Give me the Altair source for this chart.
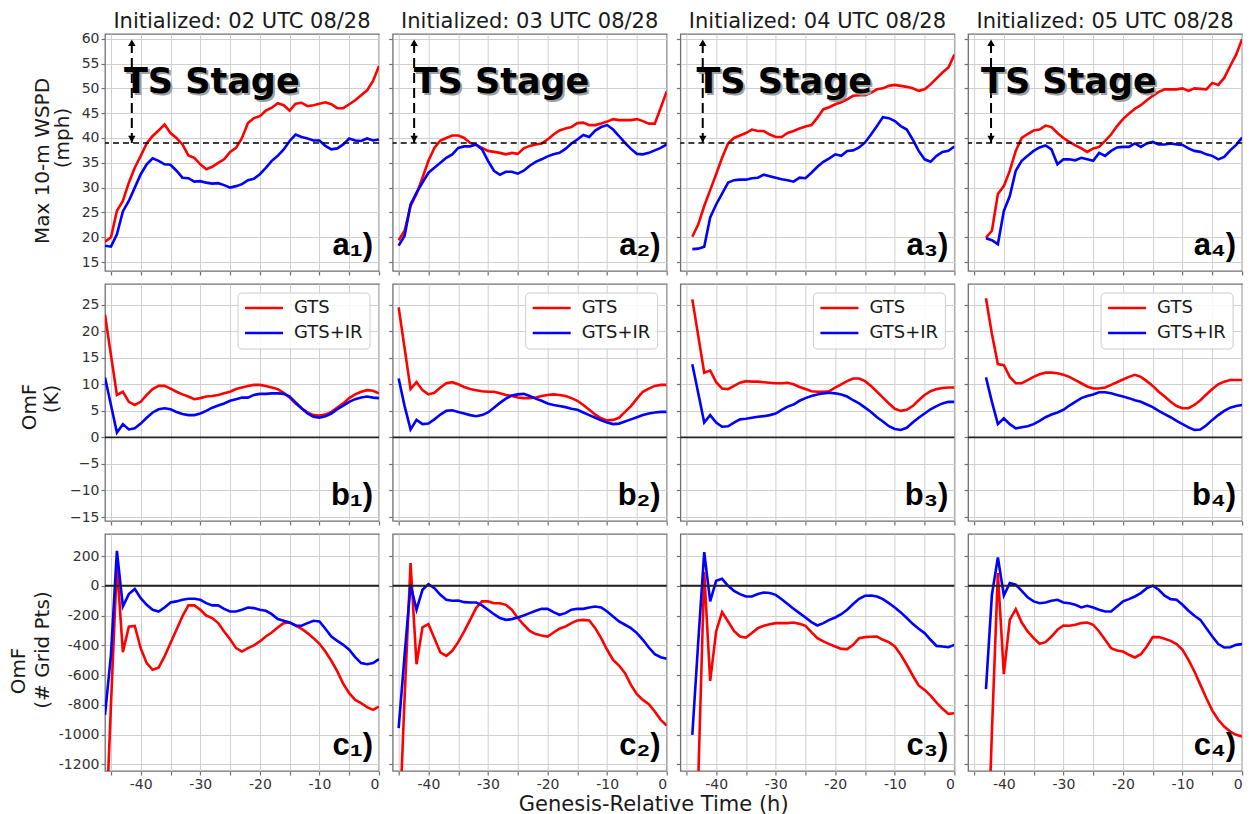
import altair as alt
import pandas as pd

FONT = "DejaVu Sans"
TAG_FONT = "Liberation Sans"
SERIES = ["GTS", "GTS+IR"]
COLORS = ["#ff0000", "#0000ff"]
COL_TITLES = ["Initialized: 02 UTC 08/28", "Initialized: 03 UTC 08/28",
              "Initialized: 04 UTC 08/28", "Initialized: 05 UTC 08/28"]
START_HOURS = [-46, -45, -44, -43]
ROW_TAGS = ["a", "b", "c"]
SUBS = ["\u2081", "\u2082", "\u2083", "\u2084"]

X_TICKS = [-45, -40, -35, -30, -25, -20, -15, -10, -5, 0]
Y_TICKS_A = [15, 20, 25, 30, 35, 40, 45, 50, 55, 60]
Y_TICKS_B = [-15, -10, -5, 0, 5, 10, 15, 20, 25]
Y_TICKS_C = [-1200, -1000, -800, -600, -400, -200, 0, 200]
TS_THRESHOLD = 39

# ---- Row a: Max 10-m WSPD (mph) ----
A1_GTS = [19.1, 20.0, 25.3, 27.3, 31.0, 34.0, 36.4, 38.9, 40.4, 41.5,
          42.7, 41.0, 40.0, 38.7, 36.5, 36.0, 34.7, 33.7, 34.2, 35.0,
          35.7, 37.2, 38.0, 40.0, 43.0, 44.0, 44.4, 45.5, 46.1, 47.0,
          46.6, 45.5, 46.9, 47.1, 46.4, 46.6, 46.9, 47.2, 46.8, 46.0,
          46.0, 46.8, 47.6, 48.6, 49.6, 51.5, 54.5]
A1_IR = [18.3, 18.1, 20.6, 25.2, 27.3, 30.0, 32.7, 34.7, 35.9, 35.4,
         34.7, 34.6, 33.4, 32.0, 31.9, 31.2, 31.3, 31.0, 30.8, 30.9,
         30.5, 30.0, 30.3, 30.7, 31.5, 31.8, 32.7, 34.0, 35.4, 36.4,
         37.7, 39.4, 40.7, 40.2, 39.9, 39.5, 39.5, 38.4, 37.7, 37.9,
         38.7, 39.9, 39.5, 39.4, 39.9, 39.5, 39.7]
A2_GTS = [19.4, 21.3, 26.3, 28.7, 32.0, 35.4, 38.0, 39.5, 40.0, 40.5,
          40.5, 40.0, 39.0, 38.6, 38.0, 37.4, 37.2, 37.0, 36.7, 37.0,
          36.8, 37.9, 38.4, 38.7, 38.9, 39.7, 40.7, 41.5, 41.9, 42.2,
          43.0, 43.1, 42.6, 42.6, 42.9, 43.3, 43.8, 43.6, 43.6, 43.6,
          43.8, 43.4, 42.9, 42.9, 46.1, 49.4]
A2_IR = [18.3, 20.3, 26.6, 29.0, 31.0, 33.0, 34.0, 35.0, 36.0, 36.7,
         38.0, 38.3, 38.3, 38.7, 37.7, 35.4, 33.4, 32.6, 33.2, 33.2,
         32.8, 33.4, 34.4, 35.2, 35.7, 36.3, 36.7, 37.0, 37.8, 38.9,
         39.7, 40.6, 40.2, 41.5, 42.2, 42.6, 41.7, 40.4, 39.0, 37.8,
         36.8, 36.7, 37.0, 37.5, 38.0, 38.7]
A3_GTS = [20.1, 22.6, 26.3, 29.5, 32.7, 36.0, 38.9, 40.0, 40.5, 41.0,
          41.7, 41.4, 41.4, 40.7, 40.2, 40.2, 41.0, 41.4, 41.9, 42.3,
          42.6, 44.1, 45.8, 46.2, 46.8, 47.2, 47.8, 48.5, 48.6, 48.6,
          49.1, 49.8, 50.0, 50.5, 50.7, 50.5, 50.3, 50.0, 49.5, 49.8,
          50.8, 52.0, 53.2, 54.2, 56.8]
A3_IR = [17.6, 17.7, 18.1, 24.0, 26.6, 28.8, 31.0, 31.5, 31.6, 31.6,
         31.9, 32.0, 32.6, 32.3, 32.0, 31.7, 31.5, 31.2, 32.0, 31.9,
         33.0, 34.2, 35.2, 35.9, 36.7, 36.4, 37.4, 37.5, 38.1, 39.1,
         40.7, 42.4, 44.2, 44.0, 43.4, 42.4, 41.7, 39.7, 37.4, 35.7,
         35.2, 36.4, 37.2, 37.4, 38.3]
A4_GTS = [19.9, 21.3, 28.7, 30.3, 33.4, 37.4, 40.0, 40.8, 41.5, 41.7,
          42.5, 42.2, 41.0, 40.0, 39.2, 38.5, 37.9, 37.2, 37.9, 38.2,
          39.4, 40.7, 42.4, 43.8, 44.9, 45.9, 46.6, 47.6, 48.5, 49.3,
          49.8, 49.8, 49.8, 50.0, 49.5, 50.0, 49.9, 49.8, 51.1, 50.7,
          52.1, 54.5, 56.8, 59.9]
A4_IR = [19.8, 19.4, 18.6, 25.3, 28.3, 33.4, 35.4, 36.4, 37.4, 38.1,
         38.5, 37.7, 34.7, 35.7, 35.7, 35.5, 36.0, 35.7, 35.4, 37.0,
         36.4, 37.4, 38.1, 38.2, 38.2, 38.9, 38.2, 38.9, 39.2, 38.7,
         38.7, 38.9, 38.7, 38.6, 37.9, 37.4, 37.2, 36.7, 36.4, 35.7,
         36.2, 37.5, 38.6, 40.1]

# ---- Row b: OmF (K) ----
B1_GTS = [23.1, 15.5, 8.0, 8.6, 6.7, 6.1, 6.7, 8.0, 9.1, 9.7,
          9.7, 9.2, 8.6, 8.1, 7.7, 7.2, 7.4, 7.7, 7.8, 8.0,
          8.3, 8.6, 9.1, 9.4, 9.7, 9.9, 9.9, 9.7, 9.4, 9.1,
          8.4, 7.5, 6.4, 5.5, 4.7, 4.2, 4.1, 4.3, 4.8, 5.6,
          6.4, 7.4, 8.1, 8.6, 8.9, 8.8, 8.3]
B1_IR = [11.3, 6.1, 0.9, 2.5, 1.5, 1.7, 2.6, 3.7, 4.7, 5.3,
         5.5, 5.3, 4.8, 4.4, 4.2, 4.2, 4.5, 5.0, 5.6, 6.0,
         6.4, 6.9, 7.2, 7.5, 7.5, 8.0, 8.2, 8.2, 8.3, 8.3,
         8.2, 7.7, 6.6, 5.5, 4.5, 3.9, 3.7, 4.0, 4.5, 5.3,
         6.0, 6.7, 7.2, 7.5, 7.7, 7.5, 7.4]
B2_GTS = [24.5, 16.8, 9.1, 10.4, 8.9, 8.1, 8.4, 9.4, 10.2, 10.4,
          10.0, 9.5, 9.1, 8.9, 8.7, 8.6, 8.6, 8.3, 8.0, 7.8,
          7.5, 7.4, 7.4, 7.5, 7.8, 8.0, 8.1, 8.0, 7.8, 7.4,
          6.9, 6.1, 5.2, 4.3, 3.6, 3.2, 3.3, 3.7, 4.8, 5.9,
          7.3, 8.6, 9.2, 9.7, 9.9, 9.9]
B2_IR = [11.1, 5.9, 1.5, 3.3, 2.5, 2.6, 3.4, 4.3, 5.0, 5.1,
         4.8, 4.5, 4.2, 4.0, 4.2, 4.7, 5.6, 6.5, 7.3, 7.9,
         8.1, 8.2, 7.8, 7.3, 6.9, 6.4, 6.1, 5.9, 5.7, 5.4,
         5.2, 4.7, 4.2, 3.7, 3.2, 2.8, 2.5, 2.6, 3.0, 3.4,
         3.8, 4.2, 4.5, 4.7, 4.8, 4.8]
B3_GTS = [26.0, 19.1, 12.2, 12.6, 10.4, 9.2, 9.1, 9.7, 10.3, 10.6,
          10.5, 10.5, 10.4, 10.3, 10.2, 10.2, 10.3, 10.0, 9.5, 9.1,
          8.7, 8.6, 8.6, 8.7, 9.4, 10.0, 10.6, 11.1, 11.1, 10.6,
          9.7, 8.6, 7.5, 6.4, 5.4, 5.0, 5.2, 5.9, 7.0, 8.0,
          8.7, 9.1, 9.3, 9.4, 9.4]
B3_IR = [13.8, 8.3, 2.8, 4.2, 2.8, 2.0, 2.1, 2.8, 3.4, 3.5,
         3.7, 3.9, 4.0, 4.2, 4.5, 5.2, 5.8, 6.2, 6.9, 7.4,
         7.8, 8.1, 8.3, 8.4, 8.3, 8.1, 7.7, 7.0, 6.4, 5.6,
         4.8, 3.8, 3.0, 2.1, 1.6, 1.4, 1.8, 2.8, 3.7, 4.5,
         5.3, 5.9, 6.4, 6.7, 6.7]
B4_GTS = [26.2, 19.5, 13.8, 13.6, 11.4, 10.2, 10.2, 10.8, 11.4, 11.9,
          12.2, 12.2, 12.1, 11.8, 11.4, 10.8, 10.2, 9.6, 9.2, 9.2,
          9.4, 9.9, 10.4, 10.9, 11.4, 11.8, 11.4, 10.6, 9.7, 8.6,
          7.7, 6.7, 5.9, 5.5, 5.5, 6.1, 7.0, 8.1, 9.1, 10.0,
          10.5, 10.8, 10.8, 10.8]
B4_IR = [11.3, 6.7, 2.5, 3.6, 2.5, 1.7, 1.9, 2.1, 2.5, 3.1,
         3.8, 4.3, 4.7, 5.2, 6.0, 6.7, 7.4, 7.8, 8.1, 8.5,
         8.5, 8.3, 8.0, 7.7, 7.4, 7.0, 6.7, 6.2, 5.7, 5.0,
         4.4, 3.8, 3.1, 2.5, 1.9, 1.4, 1.5, 2.3, 3.3, 4.2,
         5.0, 5.6, 5.9, 6.1]

# ---- Row c: OmF (# Grid Pts) ----
C1_GTS = [-1800, -800, 140, -446, -275, -270, -420, -520, -565, -550,
          -475, -385, -295, -205, -132, -132, -161, -200, -217, -251,
          -307, -359, -419, -442, -419, -401, -374, -341, -314, -280,
          -251, -247, -267, -289, -318, -352, -390, -442, -504, -576,
          -659, -722, -767, -789, -816, -834, -812]
C1_IR = [-868, -464, 235, -139, -56, -22, -83, -128, -161, -173,
         -146, -112, -105, -94, -87, -87, -94, -117, -132, -132,
         -155, -173, -173, -161, -146, -150, -161, -168, -191, -224,
         -235, -247, -267, -269, -251, -235, -240, -289, -341, -370,
         -397, -430, -480, -520, -527, -520, -493]
C2_GTS = [-1750, -750, 152, -527, -280, -258, -352, -448, -471, -437,
          -379, -307, -229, -150, -105, -105, -117, -117, -128, -161,
          -217, -262, -303, -325, -334, -341, -314, -289, -274, -251,
          -233, -229, -233, -285, -352, -430, -498, -536, -587, -666,
          -729, -767, -796, -845, -901, -939]
C2_IR = [-957, -464, 7, -161, -27, 11, -16, -61, -94, -101,
         -99, -110, -112, -112, -132, -161, -191, -217, -229, -224,
         -213, -200, -184, -168, -155, -155, -177, -195, -184, -161,
         -155, -155, -146, -139, -146, -173, -206, -240, -262, -285,
         -318, -363, -415, -460, -480, -491]
C3_GTS = [-2500, -1300, 92, -639, -307, -177, -240, -303, -341, -348,
          -318, -285, -269, -258, -251, -251, -251, -247, -256, -269,
          -312, -352, -374, -392, -408, -424, -426, -397, -352, -345,
          -343, -341, -363, -379, -408, -464, -531, -603, -670, -700,
          -738, -785, -827, -861, -857]
C3_IR = [-1002, -374, 226, -105, 34, 47, 0, -34, -56, -72,
         -72, -56, -45, -49, -61, -90, -123, -155, -184, -213,
         -244, -267, -251, -229, -213, -191, -161, -123, -87, -67,
         -65, -72, -90, -117, -146, -179, -217, -256, -289, -318,
         -363, -404, -408, -413, -397]
C4_GTS = [-2150, -980, 85, -594, -229, -157, -247, -307, -352, -390,
          -379, -341, -296, -267, -269, -262, -251, -247, -262, -307,
          -363, -419, -435, -442, -464, -482, -460, -408, -345, -345,
          -356, -370, -392, -430, -498, -576, -666, -756, -839, -901,
          -946, -980, -1002, -1013]
C4_IR = [-695, -60, 191, -65, 18, 7, -34, -78, -105, -117,
         -112, -101, -94, -112, -117, -128, -146, -135, -146, -161,
         -173, -173, -139, -105, -90, -72, -49, -16, 0, -27,
         -67, -90, -94, -128, -168, -202, -229, -285, -341, -392,
         -415, -413, -397, -392]

DATA = [
    [(A1_GTS, A1_IR), (A2_GTS, A2_IR), (A3_GTS, A3_IR), (A4_GTS, A4_IR)],
    [(B1_GTS, B1_IR), (B2_GTS, B2_IR), (B3_GTS, B3_IR), (B4_GTS, B4_IR)],
    [(C1_GTS, C1_IR), (C2_GTS, C2_IR), (C3_GTS, C3_IR), (C4_GTS, C4_IR)],
]

# ---- layout / style ----
W, H = 274, 237
X_DOMAIN = [-46, 0]
Y_DOMAINS = [[13.2, 60.95], [-15.75, 28.9], [-1245, 348]]
Y_TICKS = [Y_TICKS_A, Y_TICKS_B, Y_TICKS_C]
Y_LABEL_EXPR = ["toString(datum.value)",
                "replace(toString(datum.value), '-', '\u2212')",
                "toString(datum.value)"]
Y_TITLES = [["Max 10-m WSPD", "(mph)"], ["OmF", "(K)"], ["OmF", "(# Grid Pts)"]]
# (x, y) centres of the two y-title lines relative to the panel origin
Y_TITLE_POS = [[(-62, 127), (-42, 104)], [(-75, 123), (-53, 115)], [(-86, 137), (-62, 116)]]
TS_TEXT_X = [19, 21, 16, 13]
ARROW_X = [-41.5, -42.4, -42.25, -42.15]


def text_layer(txt, x, y, **kw):
    return alt.Chart(pd.DataFrame({"t": [txt]})).mark_text(**kw).encode(
        text="t:N", x=alt.value(x), y=alt.value(y))


def panel(r, c):
    hours = list(range(START_HOURS[c], 1))
    g, ir = DATA[r][c]
    df = pd.DataFrame({
        "hour": hours + hours,
        "value": list(g) + list(ir),
        "series": [SERIES[0]] * len(hours) + [SERIES[1]] * len(hours),
    })
    xs = alt.Scale(domain=X_DOMAIN, nice=False, zero=False)
    ys = alt.Scale(domain=Y_DOMAINS[r], nice=False, zero=False)
    xaxis = alt.Axis(values=X_TICKS, title=None, labels=(r == 2),
                     labelExpr="datum.value % 10 == 0 ? toString(datum.value) : ''")
    yaxis = alt.Axis(values=Y_TICKS[r], title=None, labels=(c == 0),
                     labelExpr=Y_LABEL_EXPR[r])

    def X(field):
        return alt.X(field, type="quantitative", scale=xs, axis=xaxis)

    def Y(field):
        return alt.Y(field, type="quantitative", scale=ys, axis=yaxis)

    layers = []
    if r == 0:
        ref = alt.Chart(pd.DataFrame({"v": [TS_THRESHOLD]})).mark_rule(
            color="black", strokeWidth=1.6, strokeDash=[6, 4]).encode(y=Y("v"))
    else:
        ref = alt.Chart(pd.DataFrame({"v": [0]})).mark_rule(
            color="#222222", strokeWidth=1.8).encode(y=Y("v"))

    lines = alt.Chart(df).mark_line(strokeWidth=2.6, clip=True).encode(
        x=X("hour"),
        y=Y("value"),
        color=alt.Color("series:N", scale=alt.Scale(domain=SERIES, range=COLORS), legend=None),
    )
    layers.append(lines)
    layers.append(ref)

    if r == 0:
        ax = ARROW_X[c]
        adf = pd.DataFrame({"x": [ax], "y1": [TS_THRESHOLD], "y2": [60]})
        layers.append(alt.Chart(adf).mark_rule(color="black", strokeWidth=2, strokeDash=[10, 5]).encode(
            x=X("x"), y=Y("y1"), y2="y2:Q"))
        layers.append(alt.Chart(adf).mark_point(shape="triangle-up", filled=True, size=55,
                                                color="black", opacity=1, yOffset=4).encode(
            x=X("x"), y=Y("y2")))
        layers.append(alt.Chart(adf).mark_point(shape="triangle-down", filled=True, size=55,
                                                color="black", opacity=1, yOffset=-4).encode(
            x=X("x"), y=Y("y1")))
        tx = TS_TEXT_X[c]
        layers.append(text_layer("TS Stage", tx + 2, 61, align="left", baseline="alphabetic",
                                 font=FONT, fontSize=35, fontWeight="bold", color="#a0a0a0"))
        layers.append(text_layer("TS Stage", tx, 59, align="left", baseline="alphabetic",
                                 font=FONT, fontSize=35, fontWeight="bold", color="black"))
        layers.append(text_layer(COL_TITLES[c], W / 2, -6, align="center", baseline="alphabetic",
                                 font=FONT, fontSize=21, color="#1a1a1a"))

    if r == 1:
        layers.append(alt.Chart(pd.DataFrame({"a": [0]})).mark_rect(
            fill="white", fillOpacity=0.85, stroke="#cccccc", strokeWidth=1, cornerRadius=4).encode(
            x=alt.value(133), x2=alt.value(265), y=alt.value(9), y2=alt.value(65)))
        for i, (name, col) in enumerate(zip(SERIES, COLORS)):
            yy = 24 + 25 * i
            layers.append(alt.Chart(pd.DataFrame({"a": [0]})).mark_rule(
                color=col, strokeWidth=2.5).encode(
                x=alt.value(140), x2=alt.value(178), y=alt.value(yy), y2=alt.value(yy)))
            layers.append(text_layer(name, 189, yy, align="left", baseline="middle",
                                     font=FONT, fontSize=18, color="#1a1a1a"))

    layers.append(text_layer(ROW_TAGS[r] + SUBS[c] + ")", W - 6, H - 16, align="right",
                             baseline="alphabetic", font=TAG_FONT, fontSize=31,
                             fontWeight="bold", color="black"))

    if c == 0:
        for txt, (px, py) in zip(Y_TITLES[r], Y_TITLE_POS[r]):
            layers.append(text_layer(txt, px, py, align="center", baseline="middle", angle=270,
                                     font=FONT, fontSize=20, color="#1a1a1a"))
        if r == 0:
            # invisible anchor fixing the page origin
            layers.append(alt.Chart(pd.DataFrame({"a": [0]})).mark_rule(
                strokeWidth=0, strokeOpacity=0, color="white").encode(
                x=alt.value(-104), x2=alt.value(-103), y=alt.value(-33), y2=alt.value(-33)))
    if r == 2 and c == 1:
        layers.append(text_layer("Genesis-Relative Time (h)", 261, 277, align="center",
                                 baseline="alphabetic", font=FONT, fontSize=21, color="#1a1a1a"))

    return alt.layer(*layers).properties(width=W, height=H)


panels = [panel(r, c) for r in range(3) for c in range(4)]

chart = alt.concat(
    *panels, columns=4, spacing=alt.RowColnumber(row=13, column=13.7), bounds="flush"
).properties(padding=0).configure_view(
    stroke="#707070", strokeWidth=1.3
).configure_axis(
    grid=True, gridColor="#d0d0d0", gridWidth=1,
    domain=False, tickColor="#707070", tickSize=4, tickWidth=1.2,
    labelFont=FONT, labelFontSize=14, labelColor="#333333", labelPadding=2,
).configure_text(font=FONT)

chart.save("out.html", embed_options={"renderer": "svg", "actions": False})
